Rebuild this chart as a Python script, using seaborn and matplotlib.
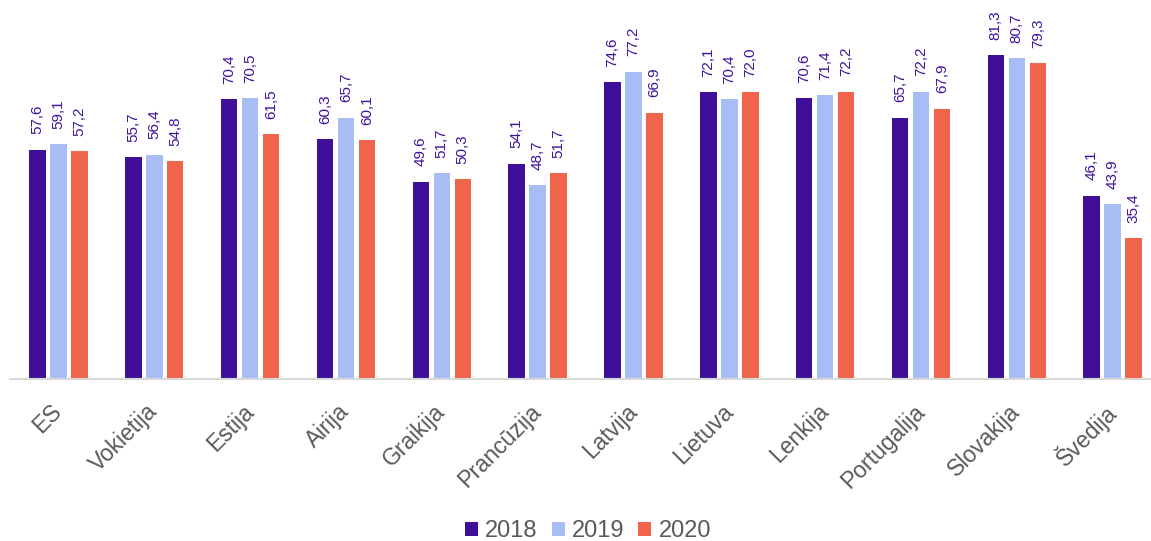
import matplotlib
matplotlib.use("Agg")
import matplotlib.pyplot as plt
import matplotlib.patches as mpatches
import seaborn as sns
import pandas as pd

# Share values per country and year
countries = ["ES", "Vokietija", "Estija", "Airija", "Graikija", "Prancūzija",
             "Latvija", "Lietuva", "Lenkija", "Portugalija", "Slovakija", "Švedija"]
years = ["2018", "2019", "2020"]
values_2018 = [57.6, 55.7, 70.4, 60.3, 49.6, 54.1, 74.6, 72.1, 70.6, 65.7, 81.3, 46.1]
values_2019 = [59.1, 56.4, 70.5, 65.7, 51.7, 48.7, 77.2, 70.4, 71.4, 72.2, 80.7, 43.9]
values_2020 = [57.2, 54.8, 61.5, 60.1, 50.3, 51.7, 66.9, 72.0, 72.2, 67.9, 79.3, 35.4]
colors = ["#3f0f99", "#a9bdf5", "#f0654b"]

df = pd.DataFrame({
    "country": countries * 3,
    "year": [y for y in years for _ in countries],
    "value": values_2018 + values_2019 + values_2020,
})

sns.set_style("white")
plt.rcParams["font.family"] = ["Liberation Sans", "DejaVu Sans"]

fig = plt.figure(figsize=(11.51, 5.41), dpi=100)
ax = fig.add_axes([10 / 1151, 1 - 379 / 541, 1 - 10 / 1151, 379 / 541])

sns.barplot(data=df, x="country", y="value", hue="year", order=countries,
            hue_order=years, palette=colors, width=0.657, gap=0.22,
            linewidth=0, saturation=1, legend=False, ax=ax)

for cont in ax.containers:
    labels = [f"{b.get_height():.1f}".replace(".", ",") for b in cont]
    ax.bar_label(cont, labels=labels, rotation=90, padding=11,
                 fontsize=11, color="#40129c")

ax.set_ylim(0, 379 / 3.98)
ax.set_xlim(-0.506, 11.40)
ax.set_xlabel("")
ax.set_ylabel("")
ax.set_yticks([])
ax.set_xticks(range(len(countries)))
ax.set_xticklabels(countries, rotation=45, ha="right", va="center",
                   rotation_mode="anchor", fontsize=16.5, color="#595959")
ax.tick_params(axis="x", length=0, pad=21)
for side in ["top", "right", "left"]:
    ax.spines[side].set_visible(False)
ax.spines["bottom"].set_color("#d9d9d9")
ax.spines["bottom"].set_linewidth(1.5)

handles = [mpatches.Patch(facecolor=c, edgecolor="none", label=y)
           for c, y in zip(colors, years)]
fig.legend(handles=handles, loc="center", bbox_to_anchor=(588 / 1151, 1 - 531 / 541),
           ncol=3, frameon=False, fontsize=17, labelcolor="#595959",
           handlelength=0.55, handleheight=0.55, handletextpad=0.3,
           columnspacing=0.6)

fig.savefig("out.png", dpi=100)
